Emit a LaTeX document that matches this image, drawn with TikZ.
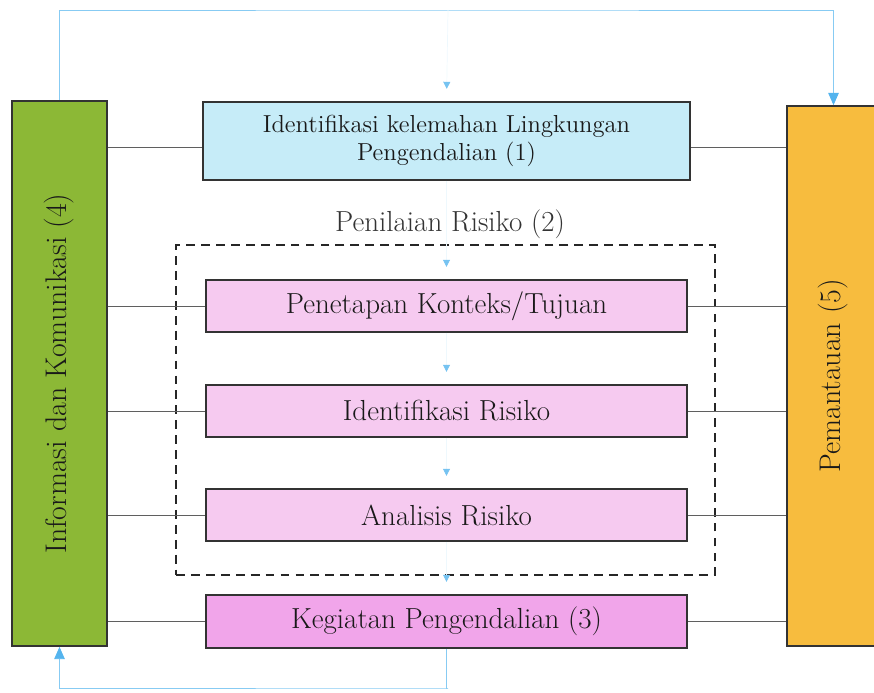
\documentclass[tikz,border=0pt]{standalone}
\usepackage{tikz}
\usetikzlibrary{shapes,arrows.meta}

\definecolor{infogreen}{RGB}{140,184,54}
\definecolor{monorange}{RGB}{247,188,62}
\definecolor{stepblue}{RGB}{198,236,248}
\definecolor{steppink}{RGB}{246,202,240}
\definecolor{ctrlpink}{RGB}{241,165,234}
\definecolor{flowblue}{RGB}{84,180,238}
\definecolor{linkgray}{RGB}{95,95,95}

\begin{document}
\begin{tikzpicture}[x=0.02cm,y=-0.02cm,
        sidebox/.style={rectangle,draw=black!80,line width=1pt,minimum width=1.9cm,minimum height=10.9cm,
            font=\fontsize{17}{20}\selectfont,text=black!90},
        stepbox/.style={rectangle,draw=black!80,line width=1pt,fill=steppink,minimum width=9.62cm,minimum height=1.04cm,
            font=\fontsize{16.5}{19}\selectfont,text=black!90},
        link/.style={draw=linkgray,line width=0.5pt},
        flow/.style={draw=flowblue!70,line width=0.5pt,-{Triangle[width=6pt,length=7pt,color=flowblue]}},
        inner/.style={draw=flowblue!10,line width=0.4pt,shorten >=7pt,-{Triangle[width=4pt,length=4pt,color=flowblue!80]}}]
        \clip (0,0) rectangle (874,692);

        % side blocks
        \node[sidebox,fill=infogreen] (info) at (59.5,373.5) {\rotatebox{90}{Informasi dan Komunikasi (4)}};
        \node[sidebox,fill=monorange,minimum width=1.86cm,minimum height=10.8cm] (mon) at (833.5,376) {\rotatebox{90}{Pemantauan (5)}};

        % middle blocks
        \node[stepbox,fill=stepblue,minimum width=9.74cm,minimum height=1.56cm,align=center,
            font=\fontsize{14}{15.5}\selectfont] (lemah) at (446.5,141) {Identifikasi kelemahan Lingkungan\\Pengendalian (1)};
        \node[rectangle,draw=black!85,dash pattern=on 5pt off 3.5pt,line width=1pt,minimum width=10.78cm,minimum height=6.6cm] (nilai) at (445.5,410) {};
        \node[font=\fontsize{16.5}{19}\selectfont,text=black!80] (nilailbl) at (450,224) {Penilaian Risiko (2)};
        \node[stepbox] (konteks) at (446.5,306) {Penetapan Konteks/Tujuan};
        \node[stepbox] (ident) at (446.5,411) {Identifikasi Risiko};
        \node[stepbox] (analisis) at (446.5,515) {Analisis Risiko};
        \node[stepbox,fill=ctrlpink,minimum height=1.06cm] (kegiatan) at (446.5,621.5) {Kegiatan Pengendalian (3)};

        % feedback loop
        \coordinate (top) at (448,10);
        \coordinate (bot) at (448,688);
        \draw[flow] (info.north) |- (top) -| (mon.north);
        \draw[flow] (kegiatan.south) |- (bot) -| (info.south);

        % flow between blocks
        \draw[inner] (top) -- (lemah.north);
        \draw[inner] (lemah.south) -- (konteks.north);
        \draw[inner] (konteks.south) -- (ident.north);
        \draw[inner] (ident.south) -- (analisis.north);
        \draw[inner] (analisis.south) -- (kegiatan.north);

        % links to side blocks
        \foreach \b in {konteks,ident,analisis,kegiatan}{
            \draw[link] (info.east |- \b.west) -- (\b.west);
            \draw[link] (\b.east) -- (mon.west |- \b.east);
        }
        \coordinate (lemahw) at ([yshift=-0.12cm]lemah.west);
        \coordinate (lemahe) at ([yshift=-0.12cm]lemah.east);
        \draw[link] (info.east |- lemahw) -- (lemahw);
        \draw[link] (lemahe) -- (mon.west |- lemahe);
    \end{tikzpicture}
\end{document}
